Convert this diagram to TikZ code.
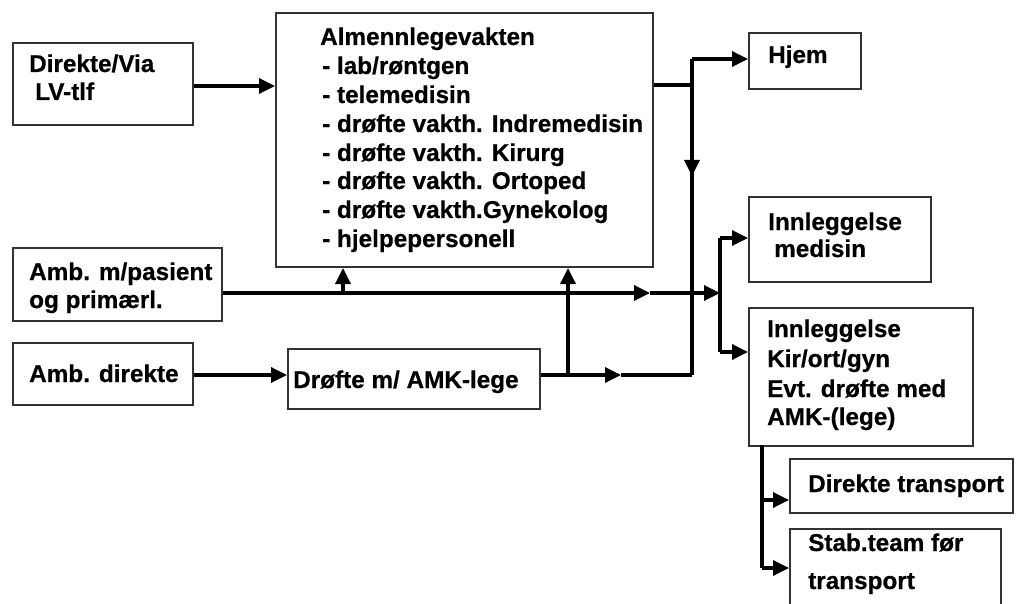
\documentclass[tikz,border=0pt]{standalone}
\usepackage{fontspec}
\setmainfont{Liberation Sans}[BoldFeatures={FakeBold=0.6}]
\usetikzlibrary{arrows.meta}
\tikzset{
  box/.style={draw=black!80, line width=2pt, fill=white, inner sep=0pt, anchor=north west},
  txt/.style={anchor=base west, inner sep=0pt, font=\fontsize{24.3}{29}\selectfont\bfseries},
  conn/.style={line width=3.4pt, black},
  arr/.style={conn, -{Triangle[length=16pt,width=15pt]}},
}
\begin{document}
\begin{tikzpicture}[x=1pt,y=-1pt]
\useasboundingbox (0,0) rectangle (1020,604);
\clip (0,0) rectangle (1020,604);
% boxes
\node[box, minimum width=180pt, minimum height=82pt] (via) at (12,42) {};
\node[box, minimum width=377pt, minimum height=254pt] (alm) at (275,12) {};
\node[box, minimum width=112pt, minimum height=56pt] (hjem) at (748,32) {};
\node[box, minimum width=182pt, minimum height=85pt] (med) at (748,196) {};
\node[box, minimum width=209pt, minimum height=73pt] (amb) at (12,247) {};
\node[box, minimum width=180pt, minimum height=62pt] (ambd) at (12,342) {};
\node[box, minimum width=252pt, minimum height=60pt] (drof) at (287,348) {};
\node[box, minimum width=224pt, minimum height=138pt] (kir) at (748,307) {};
\node[box, minimum width=223pt, minimum height=54pt] (dtr) at (789,458) {};
\node[box, minimum width=211pt, minimum height=110pt] (stab) at (789,528) {};
% texts
\node[txt] (t1) at (29,72) {Direkte/Via};
\node[txt] (t2) at (35,100) {LV-tlf};
\node[txt] (a0) at (320,45) {Almennlegevakten};
\node[txt] (a1) at (322,74) {- lab/røntgen};
\node[txt] (a2) at (322,103) {- telemedisin};
\node[txt] (a3) at (322,132) {- drøfte vakth. Indremedisin};
\node[txt] (a4) at (322,161) {- drøfte vakth. Kirurg};
\node[txt] (a5) at (322,189) {- drøfte vakth. Ortoped};
\node[txt] (a6) at (322,218) {- drøfte vakth.Gynekolog};
\node[txt] (a7) at (322,247) {- hjelpepersonell};
\node[txt] (h1) at (768,63) {Hjem};
\node[txt] (m1) at (768,230) {Innleggelse};
\node[txt] (m2) at (774,257) {medisin};
\node[txt] (p1) at (29,280) {Amb. m/pasient};
\node[txt] (p2) at (29,308) {og primærl.};
\node[txt] (d1) at (29,382) {Amb. direkte};
\node[txt] (r1) at (293,388) {Drøfte m/ AMK-lege};
\node[txt] (k1) at (767,337) {Innleggelse};
\node[txt] (k2) at (767,367) {Kir/ort/gyn};
\node[txt] (k3) at (767,397) {Evt. drøfte med};
\node[txt] (k4) at (767,425) {AMK-(lege)};
\node[txt] (s1) at (808,492) {Direkte transport};
\node[txt] (s2) at (808,551) {Stab.team før};
\node[txt] (s3) at (808,589) {transport};
% junction coordinates
\coordinate (j1) at (692,59);
\coordinate (j2) at (692,85);
\coordinate (j3) at (692,176);
\coordinate (j4) at (692,375);
\coordinate (b1) at (720,238);
\coordinate (b2) at (720,293);
\coordinate (b3) at (720,352);
\coordinate (m1p) at (650,293);
\coordinate (u1) at (343,293);
\coordinate (u2) at (568,375);
\coordinate (q1) at (621,375);
\coordinate (k0) at (762,445);
\coordinate (kd) at (762,500);
\coordinate (ks) at (762,568);
% connectors
\draw[arr] (via.east |- 0,86) -- (alm.west |- 0,86);
\draw[conn] (alm.east |- j2) -- (j2);
\draw[conn] (j1) -- (j4);
\draw[arr] (j2) -- (j3);
\draw[arr] (j1) -- (j1 -| hjem.west);
\draw[arr] (amb.east |- b2) -- (m1p);
\draw[arr] (m1p) -- (b2);
\draw[arr] (u1) -- (u1 |- alm.south);
\draw[conn] (b1) -- (b3);
\draw[arr] (b1) -- (b1 -| med.west);
\draw[arr] (b3) -- (b3 -| kir.west);
\draw[arr] (ambd.east |- 0,375) -- (drof.west |- 0,375);
\draw[arr] (drof.east |- q1) -- (q1);
\draw[conn] (q1) -- (j4);
\draw[arr] (u2) -- (u2 |- alm.south);
\draw[conn] (k0) -- (ks);
\draw[arr] (kd) -- (kd -| dtr.west);
\draw[arr] (ks) -- (ks -| stab.west);
\end{tikzpicture}
\end{document}
